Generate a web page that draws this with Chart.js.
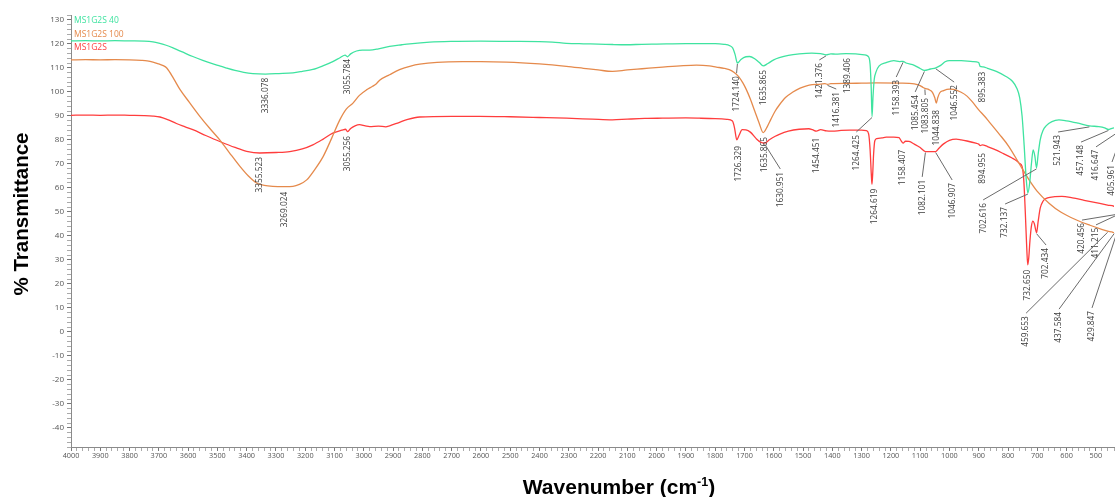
<!DOCTYPE html>
<html>
<head>
<meta charset="utf-8">
<title>FTIR spectra</title>
<script src="https://cdn.jsdelivr.net/npm/chart.js@4.4.1/dist/chart.umd.min.js"></script>
<style>
  html, body { margin: 0; padding: 0; background: #ffffff; overflow: hidden; }
  canvas { display: block; }
</style>
</head>
<body>
<canvas id="ftir" width="1115" height="497"></canvas>
<script>
// Sample names, in legend order
const seriesNames = ["MS1G2S 40", "MS1G2S 100", "MS1G2S"];
const seriesColors = ["#3fe3a0", "#e58a4c", "#ff3d3d"];

// [wavenumber (cm-1), % transmittance]
const ms40Spectrum = [
  [4000,121.2],[3950,121.3],[3900,121.2],[3850,121.3],[3800,121.2],[3750,121.1],[3720,120.8],[3700,120.3],
  [3675,119.4],[3650,118.2],[3620,116.6],[3584,114.7],[3550,113.1],[3520,111.8],[3490,110.7],[3469,109.9],
  [3440,108.9],[3410,108.1],[3379,107.6],[3336.078,107.4],[3290,107.6],[3242,107.9],[3210,108.5],[3174,109.3],
  [3140,110.8],[3106,112.6],[3080,114.3],[3064,115.3],[3055.784,114.6],[3045,115.8],[3025,117.0],[3005,117.4],
  [2980,117.4],[2950,117.9],[2912,118.9],[2870,119.6],[2843,120.0],[2775,120.7],[2700,121.0],[2600,121.1],
  [2500,121.0],[2400,120.9],[2356,120.7],[2308,120.2],[2250,120.0],[2200,119.9],[2150,119.7],[2103,119.6],
  [2050,119.8],[2000,119.9],[1900,120.1],[1800,120.1],[1770,119.8],[1750,119.2],[1740,118.2],[1732,115.5],
  [1724.14,112.0],[1712,113.5],[1695,114.6],[1683,114.7],[1665,113.8],[1650,112.3],[1635.865,110.8],[1620,111.8],
  [1600,113.3],[1581,114.2],[1550,115.2],[1513,115.8],[1470,116.1],[1440,115.9],[1421.376,115.4],[1405,115.8],
  [1389.406,115.7],[1353,115.9],[1320,115.8],[1290,115.4],[1278,114.8],[1271,111.5],[1267,101],[1264.425,89.7],
  [1261,98],[1257,105],[1250,108.5],[1240,110.8],[1216,112.2],[1190,113.0],[1170,112.6],[1158.393,112.7],
  [1148,112.0],[1120,111.0],[1100,109.7],[1085.454,108.9],[1065,109.5],[1046.552,110.0],[1030,111.0],[1015,112.5],
  [1000,113.0],[960,113.0],[920,112.6],[900,112.2],[895.383,110.6],[885,110.4],[870,109.8],[840,108.5],
  [807,106.4],[785,104.4],[770,101.5],[760,97.5],[752,90],[745,78],[738,64],[732.137,57.8],
  [726,62],[720,70],[714,75.8],[708,73],[702.616,68.3],[697,74],[690,80],[680,84],
  [670,85.8],[650,87.6],[626,88.3],[600,87.9],[560,86.9],[521.943,85.8],[490,85.5],[470,85.0],
  [457.148,84.3],[445,84.8],[430,85.0],[416.647,84.2],[410,84.7],[405.961,84.3],[400,84.8]
];

const ms100Spectrum = [
  [4000,113.3],[3950,113.4],[3900,113.3],[3850,113.4],[3800,113.3],[3760,113.1],[3740,112.9],[3720,112.4],
  [3700,111.6],[3685,110.9],[3673,109.9],[3650,105.6],[3628,101.0],[3595,95.5],[3560,89.8],[3525,84.6],
  [3492,80.0],[3460,74.8],[3423,68.9],[3395,65.0],[3366,62.0],[3340,61.0],
  [3311,60.6],[3269.024,60.5],[3242,60.6],[3220,61.4],[3195,63.3],[3170,67.2],[3139,73.0],[3110,80.6],
  [3082,88.3],[3060,92.8],[3037,95.3],[3015,98.5],[2991,100.8],[2970,102.3],[2957,103.4],[2946,104.8],
  [2912,107.1],[2878,109.2],[2840,110.7],[2809,111.5],[2750,112.3],[2663,112.6],[2600,112.6],[2513,112.4],
  [2400,111.6],[2308,110.6],[2250,109.8],[2200,109.1],[2151,108.5],[2100,109.1],[2050,109.6],[1980,110.3],
  [1920,110.8],[1864,111.1],[1820,110.8],[1796,110.3],[1770,109.8],[1752,109.2],[1735,108],[1720,106.3],
  [1705,103.6],[1694,101],[1680,97],[1665,92],[1650,87],[1635.865,83.0],[1622,85.5],[1610,88.5],
  [1595,92],[1581,94.5],[1560,97.6],[1536,99.8],[1510,101.5],[1479,102.8],[1440,103.2],[1425,103.4],
  [1416.381,103.1],[1405,103.4],[1350,103.5],[1300,103.6],[1250,103.7],[1172,103.6],[1120,103.3],[1100,102.6],
  [1090,101.8],[1083.805,101.4],[1070,100.9],[1058,99.8],[1050,97.5],[1044.838,95.3],[1040,97.5],[1033,99.6],
  [1020,100.5],[1000,101.1],[985,101.0],[960,99.8],[940,98.2],[923,96.0],[900,92.5],[880,89.8],
  [865,87.6],[830,82.4],[797,77.2],[760,69.7],[728,63.3],[700,58.5],[660,53.6],[620,49.9],
  [568,46.7],[520,44.4],[480,42.7],[459.653,41.9],[445,41.6],[437.584,41.3],[434,41.5],[429.847,41.0],
  [415,40.8],[400,40.6]
];

const msSpectrum = [
  [4000,90.2],[3950,90.3],[3900,90.2],[3850,90.3],[3800,90.2],[3750,90.1],[3720,89.9],[3696,89.5],
  [3670,88.4],[3640,86.8],[3610,85.4],[3584,84.2],[3540,81.8],[3492,79.3],[3440,76.8],[3400,75.2],
  [3355.523,74.5],[3300,74.7],[3253,75.1],[3210,76.2],[3174,77.9],[3140,80.2],[3106,82.8],[3075,84.0],
  [3062,84.4],[3055.256,83.4],[3045,84.7],[3030,85.8],[3015,86.3],[2995,85.8],[2980,85.5],[2950,85.7],
  [2925,85.4],[2912,85.8],[2880,87.2],[2850,88.5],[2809,89.5],[2700,89.8],[2605,89.8],[2500,89.6],
  [2400,89.3],[2308,89.0],[2220,88.6],[2151,88.3],[2100,88.6],[2040,88.9],[1980,89.0],[1900,89.1],
  [1854,89.0],[1800,88.8],[1760,88.5],[1741,87.8],[1734,85],[1726.329,80.0],[1718,82],[1708,84.2],
  [1695,84.1],[1680,83.2],[1660,80.5],[1645,79],[1630.951,78.6],[1615,80],[1595,81.5],[1581,82.3],
  [1550,83.6],[1513,84.4],[1480,84.6],[1468,84.2],[1454.451,83.6],[1440,84.2],[1420,83.7],[1400,83.6],
  [1370,83.9],[1340,84.0],[1300,84.0],[1284,83.8],[1276,82.5],[1271,76],[1267,66],[1264.619,61.5],
  [1262,66],[1259,74],[1255,79.5],[1248,80.5],[1230,80.8],[1216,81.1],[1190,81.1],[1172,80.9],
  [1165,79.6],[1158.407,78.6],[1150,79.4],[1138,79.3],[1120,78.2],[1100,76.8],[1082.101,75.1],[1065,75.1],
  [1046.907,75.1],[1035,76.6],[1020,78.3],[1000,79.8],[977,80.3],[960,80.0],[940,79.5],[910,78.6],
  [900,78.2],[894.955,77.6],[888,77.9],[870,77.2],[850,76.2],[820,74.5],[786,72.4],[770,71.2],
  [760,70.1],[752,68.9],[746,63],[741,50],[736,35],[732.65,27.9],[729,31],[725,38],
  [720,44],[715,46.1],[710,45],[702.434,41.3],[697,46],[690,51.5],[680,54.5],[665,55.8],
  [640,56.3],[616,56.4],[580,55.8],[540,54.8],[500,53.8],[460,52.8],[438,52.3],[428,51.5],
  [420.456,49.5],[415,51.2],[411.215,50.0],[400,51.0]
];

const spectra = [ms40Spectrum, ms100Spectrum, msSpectrum];

// Axis ranges and ticks
const wavenumberRange = [4000, 438];
const transmittanceRange = [-48, 132];
const xMajorStep = 100, xMinorStep = 20;
const yMajorStep = 10, yMinorStep = 2;

// Peak labels: [text, series index, label column (cm-1), label top (%T), draw leader]
const peakLabels = [
  ["3336.078", 0, 3336.078, 105.8, 0],
  ["3055.784", 0, 3055.784, 113.7, 0],
  ["3355.523", 2, 3355.523, 72.8, 0],
  ["3269.024", 1, 3269.024, 58.3, 0],
  ["3055.256", 2, 3055.256, 81.6, 0],
  ["1724.140", 0, 1727, 106.5, 1],
  ["1635.865", 0, 1635.865, 109.1, 0],
  ["1421.376", 0, 1444.5, 112.0, 1],
  ["1416.381", 1, 1386.5, 99.9, 1],
  ["1389.406", 0, 1349, 114.1, 0],
  ["1264.425", 0, 1318, 82.0, 1],
  ["1726.329", 2, 1720, 77.4, 0],
  ["1635.865", 1, 1632, 81.2, 0],
  ["1630.951", 2, 1577.6, 66.6, 1],
  ["1454.451", 2, 1454.451, 80.8, 0],
  ["1264.619", 2, 1256, 59.6, 0],
  ["1158.393", 0, 1181.8, 104.9, 1],
  ["1158.407", 2, 1158.407, 75.8, 0],
  ["1085.454", 0, 1116.9, 98.7, 1],
  ["1083.805", 1, 1082.8, 97.4, 1],
  ["1044.838", 1, 1044.838, 92.4, 0],
  ["1046.552", 0, 983.9, 102.8, 1],
  ["1082.101", 2, 1093, 63.3, 1],
  ["1046.907", 2, 990.7, 62.0, 1],
  ["895.383", 0, 888, 108.3, 0],
  ["894.955", 2, 888, 74.5, 0],
  ["702.616", 0, 884.9, 53.7, 1],
  ["732.137", 0, 809.9, 52.0, 1],
  ["732.650", 2, 732.65, 25.8, 0],
  ["702.434", 2, 670, 34.9, 1],
  ["521.943", 0, 629, 82.0, 1],
  ["457.148", 0, 550.6, 77.8, 1],
  ["416.647", 0, 499.4, 75.8, 1],
  ["405.961", 0, 444.8, 69.5, 1],
  ["420.456", 2, 547.2, 45.3, 1],
  ["411.215", 2, 499.4, 43.3, 1],
  ["459.653", 1, 738.2, 6.5, 1],
  ["437.584", 1, 625.6, 8.2, 1],
  ["429.847", 1, 513.1, 8.7, 1]
];

// Linear interpolation of a spectrum at a given wavenumber (spectra run high -> low)
function transmittanceAt(spectrum, w) {
  for (let i = 0; i < spectrum.length - 1; i++) {
    const a = spectrum[i], b = spectrum[i + 1];
    if (w <= a[0] && w >= b[0]) {
      const f = (a[0] - w) / (a[0] - b[0]);
      return a[1] + f * (b[1] - a[1]);
    }
  }
  return spectrum[spectrum.length - 1][1];
}

const LABEL_FONT = '8.3px "Open Sans", "Liberation Sans", sans-serif';
const TICK_COLOR = '#555555';

// Rotated peak labels with leader lines
const peakLabelPlugin = {
  id: 'peakLabels',
  afterDatasetsDraw(chart) {
    const { ctx, scales: { x, y } } = chart;
    ctx.save();
    ctx.font = LABEL_FONT;
    ctx.fillStyle = '#3a3a3a';
    ctx.strokeStyle = '#6a6a6a';
    ctx.lineWidth = 1;
    peakLabels.forEach(([text, s, col, top, leader]) => {
      const px = x.getPixelForValue(col);
      const py = y.getPixelForValue(top);
      if (leader) {
        const w = parseFloat(text);
        const ax = x.getPixelForValue(w);
        const ay = y.getPixelForValue(transmittanceAt(spectra[s], w));
        ctx.beginPath();
        ctx.moveTo(ax, ay + 1);
        ctx.lineTo(px, py - 3);
        ctx.stroke();
      }
      ctx.save();
      ctx.translate(px, py);
      ctx.rotate(-Math.PI / 2);
      ctx.textAlign = 'right';
      ctx.textBaseline = 'middle';
      ctx.fillText(text, 0, 0);
      ctx.restore();
    });
    ctx.restore();
  }
};

// Sample names in the top-left corner of the plot
const sampleKeyPlugin = {
  id: 'sampleKey',
  afterDraw(chart) {
    const { ctx, chartArea } = chart;
    ctx.save();
    ctx.font = '8.5px "Open Sans", "Liberation Sans", sans-serif';
    ctx.textAlign = 'left';
    ctx.textBaseline = 'middle';
    seriesNames.forEach((name, i) => {
      ctx.fillStyle = seriesColors[i];
      ctx.fillText(name, chartArea.left + 3, chartArea.top + 6 + i * 13.5);
    });
    ctx.restore();
  }
};

// Axis titles (x title has a superscript exponent)
const axisTitlePlugin = {
  id: 'axisTitles',
  afterDraw(chart) {
    const { ctx } = chart;
    ctx.save();
    ctx.fillStyle = '#000000';
    ctx.font = 'bold 20.5px "Liberation Sans", Arial, sans-serif';
    ctx.textBaseline = 'middle';
    ctx.textAlign = 'center';
    ctx.translate(22, 214);
    ctx.rotate(-Math.PI / 2);
    ctx.fillText('% Transmittance', 0, 0);
    ctx.restore();

    ctx.save();
    ctx.fillStyle = '#000000';
    ctx.textBaseline = 'alphabetic';
    ctx.textAlign = 'left';
    const big = 'bold 21px "Liberation Sans", Arial, sans-serif';
    const small = 'bold 12.5px "Liberation Sans", Arial, sans-serif';
    const partA = 'Wavenumber (cm', partB = '-1', partC = ')';
    ctx.font = big; const wA = ctx.measureText(partA).width; const wC = ctx.measureText(partC).width;
    ctx.font = small; const wB = ctx.measureText(partB).width;
    const total = wA + wB + wC;
    let cx = 619 - total / 2;
    const base = 494;
    ctx.font = big; ctx.fillText(partA, cx, base); cx += wA;
    ctx.font = small; ctx.fillText(partB, cx, base - 8); cx += wB;
    ctx.font = big; ctx.fillText(partC, cx, base);
    ctx.restore();
  }
};

const datasets = spectra.map((spec, i) => ({
  label: seriesNames[i],
  data: spec.map(([w, t]) => ({ x: w, y: t })),
  borderColor: seriesColors[i],
  backgroundColor: seriesColors[i],
  borderWidth: 1.3,
  pointRadius: 0,
  fill: false,
  cubicInterpolationMode: 'monotone'
}));

new Chart(document.getElementById('ftir'), {
  type: 'line',
  data: { datasets },
  options: {
    responsive: false,
    animation: false,
    events: [],
    layout: { padding: { top: 15, right: 0, bottom: 0, left: 0 } },
    plugins: { legend: { display: false }, tooltip: { enabled: false } },
    scales: {
      x: {
        type: 'linear',
        reverse: true,
        min: wavenumberRange[1],
        max: wavenumberRange[0],
        afterFit(scale) { scale.height = 50; },
        border: { color: '#8a8a8a', width: 1 },
        grid: {
          drawOnChartArea: false,
          tickLength: 4,
          color: c => (c.tick && c.tick.value % xMajorStep === 0) ? '#777777' : '#aaaaaa'
        },
        ticks: {
          stepSize: xMinorStep,
          autoSkip: false,
          maxRotation: 0,
          minRotation: 0,
          padding: 1,
          color: TICK_COLOR,
          font: { family: '"Open Sans", "Liberation Sans", sans-serif', size: 7.3 },
          callback: v => (v % xMajorStep === 0 ? String(v) : '')
        }
      },
      y: {
        type: 'linear',
        min: transmittanceRange[0],
        max: transmittanceRange[1],
        afterFit(scale) { scale.width = 71; },
        border: { color: '#8a8a8a', width: 1 },
        grid: {
          drawOnChartArea: false,
          tickLength: 4,
          color: c => (c.tick && c.tick.value % yMajorStep === 0) ? '#777777' : '#aaaaaa'
        },
        ticks: {
          stepSize: yMinorStep,
          autoSkip: false,
          padding: 3,
          color: TICK_COLOR,
          font: { family: '"Open Sans", "Liberation Sans", sans-serif', size: 8 },
          callback: v => (v % yMajorStep === 0 ? String(v) : '')
        }
      }
    }
  },
  plugins: [peakLabelPlugin, sampleKeyPlugin, axisTitlePlugin]
});
</script>
</body>
</html>
